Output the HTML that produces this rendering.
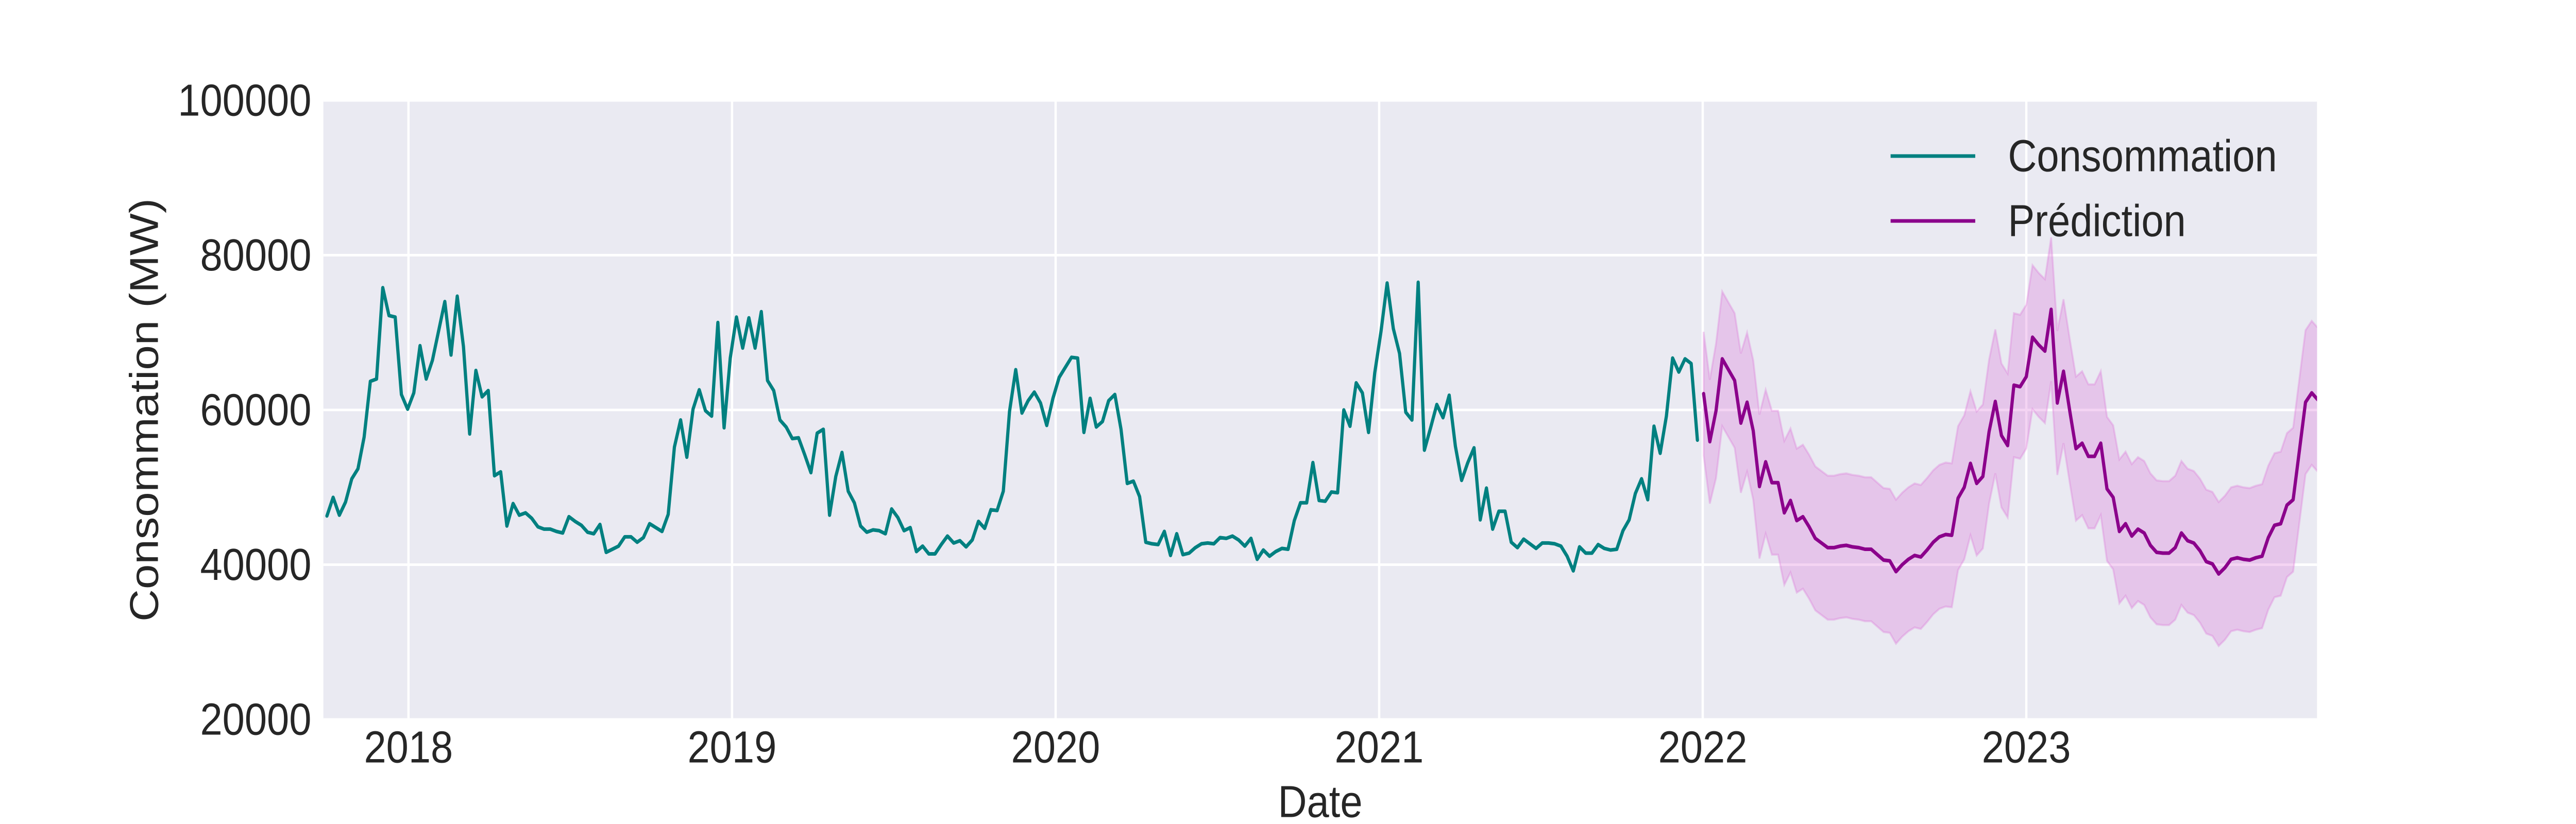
<!DOCTYPE html>
<html><head><meta charset="utf-8"><style>
html,body{margin:0;padding:0;background:#fff;width:100%;height:100%;overflow:hidden;}
svg{display:block;font-family:"Liberation Sans",Arial,sans-serif;width:100vw;height:100vh;}
</style></head><body>
<svg id="chart" viewBox="0 0 5600 1600" preserveAspectRatio="none" xmlns="http://www.w3.org/2000/svg">
<rect x="703" y="195" width="4334" height="1202" fill="#eaeaf2"/>
<g id="grid"></g>
<g id="band"></g>
<g id="lines"></g>
<g id="yticks"></g>
<g id="xticks"></g>
<text x="314" y="796" font-size="87" fill="#262626" text-anchor="middle" dominant-baseline="central" transform="rotate(-90 314 796)">Consommation (MW)</text>
<text x="2870" y="1557" font-size="87" fill="#262626" text-anchor="middle" dominant-baseline="central">Date</text>
<g>
<line x1="4110" y1="303" x2="4294" y2="303" stroke="#008080" stroke-width="7"/>
<text x="4365" y="303" font-size="87" fill="#262626" dominant-baseline="central">Consommation</text>
<line x1="4110" y1="429" x2="4294" y2="429" stroke="#8b008b" stroke-width="7"/>
<text x="4365" y="429" font-size="87" fill="#262626" dominant-baseline="central">Prédiction</text>
</g>
</svg>
<script>
const yTicks = [20000, 40000, 60000, 80000, 100000];
const xTickYears = [2018, 2019, 2020, 2021, 2022, 2023];
const consEndDate = "2021-12-26";
const predStartDate = "2022-01-02";
const consommation = [46300,48700,46400,48100,51100,52400,56500,63700,64000,75800,72200,72000,62000,60100,62200,68300,64000,66400,70200,74000,67100,74700,68200,56900,65100,61700,62500,51500,52000,45000,47900,46400,46700,46000,44900,44600,44600,44300,44100,46200,45600,45100,44200,44000,45200,41600,42000,42400,43600,43600,42900,43500,45300,44800,44300,46500,55200,58700,53900,60100,62600,59900,59200,71300,57700,66700,72000,68000,71900,68000,72700,63800,62500,58700,57800,56300,56400,54200,51900,57000,57500,46400,
51400,54500,49500,48000,45000,44200,44500,44400,44000,47200,46100,44400,44800,41700,42400,41400,41400,42600,43700,42800,43100,42300,43200,45600,44700,47100,47000,49500,59800,65200,59600,61200,62300,60900,58000,61500,64200,65500,66800,66700,57100,61500,57800,58500,61200,62000,57500,50500,50800,48800,42900,42700,42600,44300,41200,44000,41300,41500,42200,42700,42800,42700,43500,43400,43700,43200,42400,43400,40700,41900,41100,41700,42100,42000,45700,48000,48000,53200,48300,48200,49400,
49300,60000,57900,63500,62200,57100,64800,70100,76400,70500,67300,59700,58700,76500,54800,57700,60700,59000,61900,55300,50900,53200,55100,45800,49900,44600,46900,46900,42900,42200,43300,42700,42100,42800,42800,42700,42400,41100,39200,42300,41500,41500,42600,42100,41900,42000,44400,45800,49200,51100,48400,57900,54400,59200,66700,64900,66600,66000,56100];
const prediction = [62100,55900,59900,66600,65200,63800,58300,61000,57300,50100,53300,50600,50600,46700,48300,45700,46200,44900,43400,42800,42200,42200,42400,42500,42300,42200,42000,42000,41300,40600,40500,39100,40000,40700,41200,41000,41900,42900,43600,43900,43800,48600,50000,53100,50500,51400,57200,61100,56700,55400,63200,63000,64300,69400,68400,67600,73000,60900,65000,59900,55000,55700,54000,54000,55700,49800,48700,44300,45300,43700,44600,44100,42500,41600,41500,41500,42200,44100,43100,42800,41800,40400,40100,38800,39600,40700,40900,40700,40600,40900,41100,43500,45100,45300,47700,48400,54700,61000,62200,61300];
const predUpper = [70100,63900,68600,75300,73900,72500,67300,70000,66400,59400,62600,59900,59900,56000,57600,55000,55500,54200,52700,52100,51500,51500,51700,51800,51600,51500,51300,51300,50600,49900,49800,48400,49300,50000,50500,50300,51200,52200,52900,53200,53100,57900,59300,62400,59800,60700,66500,70400,66000,64700,72500,72300,73600,78700,77700,76900,82300,70200,74300,69200,64300,65000,63300,63300,65000,59100,58000,53600,54600,53000,53900,53400,51800,50900,50800,50800,51500,53400,52400,52100,51100,49700,49400,48100,48900,50000,50200,50000,49900,50200,50400,52800,54400,54600,57000,57700,64000,70300,71500,70600];
const predLower = [54100,47900,51200,57900,56500,55100,49300,52000,48400,40800,44000,41300,41300,37400,39000,36400,36900,35600,34100,33500,32900,32900,33100,33200,33000,32900,32700,32700,32000,31300,31200,29800,30700,31400,31900,31700,32600,33600,34300,34600,34500,39300,40700,43800,41200,42100,47900,51800,47400,46100,53900,53700,55000,60100,59100,58300,63700,51600,55700,50600,45700,46400,44700,44700,46400,40500,39400,35000,36000,34400,35300,34800,33200,32300,32200,32200,32900,34800,33800,33500,32500,31100,30800,29500,30300,31400,31600,31400,31300,31600,31800,34200,35800,36000,38400,39100,45400,51700,52900,52000];

const NS = "http://www.w3.org/2000/svg";
const L = 703, R = 5037, T = 195, B = 1397;
const DAY = 864e5;
function yearOf(ms){ const y = new Date(ms).getUTCFullYear(); const s = Date.UTC(y,0,1), e = Date.UTC(y+1,0,1); return y + (ms - s)/(e - s); }
function xs(yr){ return 888 + (yr - 2018) * (4405 - 888) / 5; }
function ys(v){ return B - (v - 20000) * (B - T) / 80000; }
function mk(tag, attrs, parent){ const el = document.createElementNS(NS, tag); for (const k in attrs) el.setAttribute(k, attrs[k]); parent.appendChild(el); return el; }

const grid = document.getElementById('grid');
yTicks.forEach(v => {
  const g = mk('line', {x1:L, x2:R, y1:ys(v), y2:ys(v), stroke:'#fff', 'stroke-width':5}, grid);
  
  
  const t = mk('text', {x:677, y:ys(v), 'font-size':87, fill:'#262626', 'text-anchor':'end', 'dominant-baseline':'central'}, document.getElementById('yticks'));
  
  
  t.textContent = v;
});
xTickYears.forEach(yr => {
  const g = mk('line', {x1:xs(yr), x2:xs(yr), y1:T, y2:B, stroke:'#fff', 'stroke-width':5}, grid);
  
  
  const t = mk('text', {x:xs(yr), y:1451, 'font-size':87, fill:'#262626', 'text-anchor':'middle', 'dominant-baseline':'central'}, document.getElementById('xticks'));
  
  
  t.textContent = yr;
});

const endMs = Date.parse(consEndDate + "T00:00:00Z");
const consX = consommation.map((v,i) => xs(yearOf(endMs - (consommation.length - 1 - i) * 7 * DAY)));
const startMs = Date.parse(predStartDate + "T00:00:00Z");
const predX = prediction.map((v,i) => xs(yearOf(startMs + i * 7 * DAY)));

const defs = mk('defs', {}, document.getElementById('chart'));
const cp = mk('clipPath', {id:'plotclip'}, defs);
mk('rect', {x:L, y:T, width:R-L, height:B-T}, cp);

const band = document.getElementById('band');
band.setAttribute('clip-path', 'url(#plotclip)');
let d = predUpper.map((v,i) => (i ? 'L' : 'M') + predX[i].toFixed(1) + ',' + ys(v).toFixed(1)).join('');
for (let i = predLower.length - 1; i >= 0; i--) d += 'L' + predX[i].toFixed(1) + ',' + ys(predLower[i]).toFixed(1);
const bp = mk('path', {d: d + 'Z', fill:'#da70d6', 'fill-opacity':0.3, stroke:'#da70d6', 'stroke-opacity':0.3, 'stroke-width':4}, band);



const lines = document.getElementById('lines');
lines.setAttribute('clip-path', 'url(#plotclip)');
const cl = mk('polyline', {points: consommation.map((v,i) => consX[i].toFixed(1) + ',' + ys(v).toFixed(1)).join(' '), fill:'none', stroke:'#008080', 'stroke-width':7, 'stroke-linejoin':'round', 'stroke-linecap':'round'}, lines);


const pl = mk('polyline', {points: prediction.map((v,i) => predX[i].toFixed(1) + ',' + ys(v).toFixed(1)).join(' '), fill:'none', stroke:'#8b008b', 'stroke-width':7, 'stroke-linejoin':'round', 'stroke-linecap':'round'}, lines);


</script>
</body></html>
